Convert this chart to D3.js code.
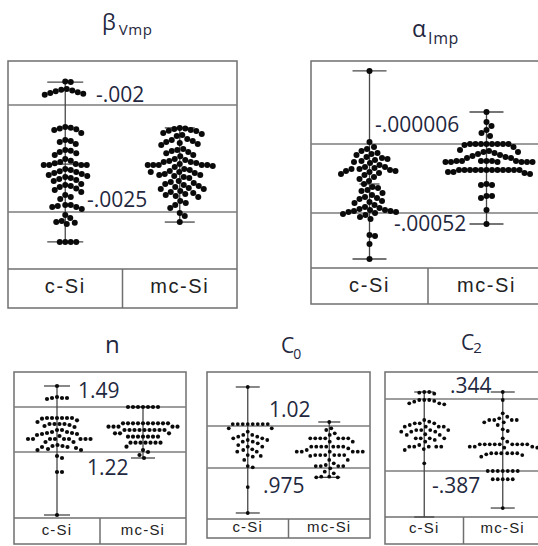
<!DOCTYPE html>
<html><head><meta charset="utf-8">
<script src="https://cdn.jsdelivr.net/npm/d3@7/dist/d3.min.js"></script>
<style>body{margin:0;background:#fff;}svg{display:block;}</style>
</head><body>
<svg id="chart" width="538" height="546"></svg>
<script>
// ---------------- DATA ----------------
const categories = ["c-Si", "mc-Si"];
const titleMain = ["β", "α", "n", "C", "C"];
const titleSub = ["Vmp", "Imp", "", "0", "2"];
const refValues = [[-0.002, -0.0025], [-0.000006, -0.00052], [1.49, 1.22], [1.02, 0.975], [0.344, -0.387]];
const refLabels = [["-.002", "-.0025"], ["-.000006", "-.00052"], ["1.49", "1.22"], ["1.02", ".975"], [".344", "-.387"]];

const betaCSi = [-0.00189, -0.001893,
  -0.001925, -0.001929, -0.001932, -0.001936, -0.00194, -0.001944, -0.001948, -0.001952,
  -0.002103, -0.002106, -0.00211, -0.002113, -0.002117, -0.002131,
  -0.002164, -0.002168, -0.002173, -0.002182,
  -0.00221, -0.002214, -0.00222, -0.002225, -0.002234,
  -0.002252, -0.00226, -0.002266, -0.002272, -0.002276, -0.00228, -0.00228, -0.00228, -0.00228,
  -0.002299, -0.002304, -0.00231, -0.002313, -0.002318, -0.002322, -0.002327, -0.002332, -0.002336, -0.002341, -0.002346, -0.00235, -0.002355,
  -0.002369, -0.002374, -0.002378, -0.002383, -0.00239, -0.002397, -0.002407,
  -0.002421, -0.00243, -0.002439,
  -0.002467, -0.002467, -0.002472, -0.002477, -0.002477, -0.002486,
  -0.002514, -0.002528, -0.002542, -0.002547, -0.00255, -0.002556,
  -0.00264, -0.00264, -0.00264, -0.00264];
const betaMcSi = [-0.002107, -0.00211, -0.002112, -0.002117, -0.00212, -0.002122, -0.002131, -0.002135, -0.00214, -0.002145,
  -0.002159, -0.002164, -0.002168, -0.002173, -0.002178, -0.002182, -0.002187,
  -0.002206, -0.00221, -0.002215, -0.00222, -0.002225, -0.002234, -0.00224,
  -0.002252, -0.002257, -0.002262, -0.002266, -0.002266, -0.002271, -0.002276, -0.00228, -0.00228, -0.00228, -0.00228, -0.00228, -0.002285, -0.00229,
  -0.002299, -0.002304, -0.002308, -0.002313, -0.002318, -0.002322, -0.002327, -0.002332, -0.002336, -0.002341, -0.002327, -0.002313,
  -0.002355, -0.00236, -0.002364, -0.002369, -0.002374, -0.002378, -0.002383, -0.002388, -0.002393, -0.002393,
  -0.002402, -0.002407, -0.002411, -0.002416, -0.002421, -0.002425, -0.00243,
  -0.002449, -0.002458, -0.002467, -0.002481,
  -0.002505, -0.002519,
  -0.002547];
const alphaCSi = [0.000538, 0.0000089,
  -0.0000283, -0.0000432, -0.0000581, -0.000073, -0.0000805, -0.000088,
  -0.0001028, -0.0001102, -0.0001177, -0.0001251, -0.0001326, -0.00014, -0.0001475, -0.0001624,
  -0.0001773, -0.0001773, -0.0001848, -0.0001922, -0.0001922, -0.0001997, -0.0002071, -0.0002071, -0.0002146, -0.000222, -0.0002295, -0.0002369,
  -0.0002518, -0.0002667, -0.0002816, -0.0003039,
  -0.0003263, -0.0003337, -0.0003486, -0.000356, -0.000371, -0.0003859,
  -0.0004008, -0.0004082, -0.0004157, -0.0004306, -0.000438, -0.0004455, -0.0004604,
  -0.0004753, -0.0004827, -0.0004902, -0.0004976, -0.0004976, -0.000505, -0.000505, -0.0005125, -0.0005125, -0.00052, -0.0005274, -0.0005349, -0.0005498, -0.0005647,
  -0.0006839, -0.0006913, -0.0007509,
  -0.0008626];
const alphaMcSi = [0.0002324, 0.0001579, 0.000128, 0.0000983, 0.000076, 0.0000536,
  -0.000006, -0.000006, -0.000006, -0.000006, -0.000006, -0.000006, -0.000006, -0.000006, -0.0000134, -0.0000283,
  -0.0000507, -0.0000582, -0.0000656, -0.0000731, -0.0000805, -0.000088, -0.0000954, -0.0001028, -0.0001103, -0.0001103, -0.0000656,
  -0.0001326, -0.0001326, -0.0001326, -0.0001326, -0.0001326, -0.0001326, -0.00014, -0.00014, -0.00014, -0.00014, -0.00014, -0.00014,
  -0.0002, -0.0002, -0.0002, -0.0002, -0.0002, -0.0002, -0.0002, -0.0002, -0.0002, -0.0002, -0.0002, -0.0002,
  -0.000215, -0.000222, -0.000215, -0.00023,
  -0.0003039, -0.0003114, -0.0003114,
  -0.0003933, -0.0003933, -0.0004082,
  -0.0004976, -0.0006019];
const nCSi = [1.616,
  1.55, 1.544, 1.544, 1.544, 1.538,
  1.424, 1.424, 1.424, 1.424, 1.424, 1.424, 1.42, 1.41, 1.40,
  1.388, 1.388, 1.388, 1.388, 1.382, 1.376, 1.37, 1.352, 1.352,
  1.34, 1.34, 1.334, 1.334, 1.328, 1.328, 1.322, 1.316,
  1.298, 1.298, 1.298, 1.298, 1.298, 1.298, 1.298, 1.298, 1.298, 1.28, 1.28,
  1.262, 1.256, 1.256, 1.25, 1.25, 1.244, 1.238, 1.232, 1.232,
  1.196, 1.184, 1.1, 1.1, 0.842];
const nMcSi = [1.49, 1.49, 1.49, 1.49, 1.49, 1.49, 1.49,
  1.392, 1.392, 1.392, 1.392, 1.392, 1.392, 1.392, 1.392, 1.392, 1.392, 1.372, 1.372, 1.372, 1.372, 1.372,
  1.352, 1.352, 1.352, 1.352, 1.352, 1.352, 1.352, 1.352, 1.352, 1.332, 1.332, 1.332,
  1.312, 1.312, 1.312, 1.312, 1.312, 1.312, 1.312,
  1.276, 1.276, 1.276, 1.276, 1.276, 1.276, 1.276,
  1.252, 1.232, 1.22, 1.202, 1.184];
const c0CSi = [1.0618,
  1.0221, 1.0221, 1.0221, 1.0221, 1.0221, 1.0221, 1.0221, 1.0221, 1.0175, 1.0175,
  1.0139, 1.0104, 1.0104, 1.0086, 1.0086, 1.0068, 1.0068, 1.005, 1.005, 1.0032, 1.0032,
  1.0014, 0.9996, 0.9978, 0.9978, 0.995, 0.9943, 0.9925, 0.9925,
  0.9889, 0.9879, 0.9871, 0.9836,
  0.9771, 0.9757, 0.9546, 0.9268];
const c0McSi = [1.0243,
  1.0175, 1.0157, 1.0121, 1.0104,
  1.0068, 1.0068, 1.0068, 1.0068, 1.0068, 1.0068, 1.0068, 1.0032, 1.0032,
  0.9978, 0.9978, 0.9978, 0.9978, 0.9978, 0.9978, 0.9978, 0.996, 0.9943, 0.9925, 0.9925, 0.9925, 0.9925, 0.9925, 0.9925,
  0.9889, 0.9889, 0.9889, 0.9889, 0.9889, 0.9889, 0.9879, 0.9836, 0.9836,
  0.98, 0.9782, 0.9771, 0.9771, 0.9771, 0.9771, 0.9746,
  0.9711, 0.9693, 0.9657, 0.9657, 0.965, 0.965];
const c2CSi = [0.415, 0.415, 0.408, 0.398,
  0.334, 0.334, 0.334, 0.324, 0.317, 0.3, 0.3, 0.29,
  0.131, 0.114, 0.097, 0.097, 0.097, 0.08, 0.063, 0.063, 0.063, 0.063,
  0.029, 0.029, 0.029, 0.029, 0.012, 0.012, 0.012, -0.014, -0.021, -0.021,
  -0.055, -0.055, -0.055, -0.055, -0.072, -0.089,
  -0.123, -0.14, -0.14, -0.14, -0.14, -0.14, -0.164, -0.174,
  -0.309];
const c2McSi = [0.415, 0.334,
  0.199, 0.164, 0.148, 0.131, 0.131, 0.131, 0.131, 0.107, 0.107, 0.08,
  0.036, 0.019,
  -0.055, -0.089, -0.116, -0.116, -0.116, -0.116, -0.116, -0.116, -0.116, -0.116, -0.116, -0.14, -0.14, -0.14, -0.15, -0.15,
  -0.207, -0.207, -0.207, -0.207, -0.207, -0.207, -0.218, -0.225, -0.242,
  -0.387, -0.387, -0.387, -0.387, -0.387, -0.387, -0.387,
  -0.471, -0.471, -0.471, -0.471, -0.471,
  -0.763];

const rangeHighCSi = [-0.001893, 0.000538, 1.616, 1.0618, 0.415];
const rangeLowCSi = [-0.00264, -0.0008626, 0.842, 0.9268, -0.854];
const rangeHighMcSi = [-0.002107, 0.0002324, 1.49, 1.0243, 0.415];
const rangeLowMcSi = [-0.002547, -0.0006019, 1.184, 0.965, -0.763];
const meanCSi = [-0.002276, -0.000304, null, null, null];

const seriesCSi = [betaCSi, alphaCSi, nCSi, c0CSi, c2CSi];
const seriesMcSi = [betaMcSi, alphaMcSi, nMcSi, c0McSi, c2McSi];

// ---------------- LAYOUT ----------------
const layout = [
  {left: 8, right: 237, top: 61, bottom: 308, catY: 269, refY: [105, 212], r: 3, minD: 5.4, caps: [18, 15], meanW: 16,
   catSize: 20, catBase: 293, labels: [[96, 102], [87, 207]],
   title: {x: 102, y: 30, size: 22, subSize: 15, subDx: 3, subDy: 5}},
  {left: 311, right: 545, top: 61, bottom: 304, catY: 268, refY: [144, 213], r: 3, minD: 5.4, caps: [17, 17], meanW: 10,
   catSize: 20, catBase: 292, labels: [[375, 132], [394, 231]],
   title: {x: 412, y: 37, size: 23, subSize: 16, subDx: 2, subDy: 7}},
  {left: 14, right: 186, top: 372, bottom: 544, catY: 518, refY: [407, 452], r: 2.1, minD: 4.8, caps: [13, 12], meanW: 0,
   catSize: 15, catBase: 535, labels: [[78, 398], [87, 475]],
   title: {x: 105, y: 353, size: 24, subSize: 12, subDx: 0, subDy: 0}},
  {left: 207, right: 370, top: 372, bottom: 538, catY: 519, refY: [426, 468], r: 1.9, minD: 4.7, caps: [12, 11], meanW: 0,
   catSize: 15, catBase: 532, labels: [[269, 417], [263, 493]],
   title: {x: 281, y: 353, size: 21, subSize: 14, subDx: -1, subDy: 6}},
  {left: 385, right: 542, top: 372, bottom: 544, catY: 517, refY: [399, 471], r: 1.9, minD: 4.9, caps: [10, 12], meanW: 0,
   catSize: 15, catBase: 533, labels: [[450, 393], [432, 493]],
   title: {x: 461, y: 350, size: 21, subSize: 15, subDx: -1, subDy: 3}}
];

const textColor = "#1f2840";
const svg = d3.select("#chart");

// deterministic beeswarm: push each point sideways until it no longer overlaps
// (elliptical neighbourhood so that near-equal values also spread sideways)
function swarm(ys, minD) {
  const placed = [];
  const k = 0.7;
  return ys.map(y => {
    let x = 0;
    for (let i = 0; i < 2000; i++) {
      const d = Math.ceil(i / 2) * 0.5;
      const c = i % 2 ? d : -d;
      let ok = true;
      for (const p of placed) {
        const dx = p.x - c, dy = (p.y - y) * k;
        if (dx * dx + dy * dy < minD * minD) { ok = false; break; }
      }
      if (ok) { x = c; break; }
    }
    placed.push({x, y});
    return x;
  });
}

layout.forEach((L, pi) => {
  const g = svg.append("g");
  const x = d3.scaleBand().domain(categories).range([L.left, L.right]);
  const y = d3.scaleLinear().domain(refValues[pi]).range(L.refY);

  // frame
  g.append("rect").attr("x", L.left).attr("y", L.top)
    .attr("width", L.right - L.left).attr("height", L.bottom - L.top)
    .attr("fill", "none").attr("stroke", "#6f6f6f").attr("stroke-width", 1.5);
  g.append("line").attr("x1", L.left).attr("x2", L.right).attr("y1", L.catY).attr("y2", L.catY)
    .attr("stroke", "#6f6f6f").attr("stroke-width", 1.5);
  g.append("line").attr("x1", x("mc-Si")).attr("x2", x("mc-Si")).attr("y1", L.catY).attr("y2", L.bottom)
    .attr("stroke", "#6f6f6f").attr("stroke-width", 1.5);

  // reference lines
  g.selectAll("line.ref").data(refValues[pi]).join("line").attr("class", "ref")
    .attr("x1", L.left).attr("x2", L.right)
    .attr("y1", d => y(d)).attr("y2", d => y(d))
    .attr("stroke", "#7d7d7d").attr("stroke-width", 1.3);

  // category labels
  g.selectAll("text.cat").data(categories).join("text").attr("class", "cat")
    .attr("x", d => x(d) + x.bandwidth() / 2).attr("y", L.catBase)
    .attr("text-anchor", "middle").attr("font-family", "'Liberation Sans', Arial, sans-serif")
    .attr("font-size", L.catSize).attr("letter-spacing", L.catSize > 16 ? 1.6 : 1.2)
    .attr("fill", "#222").text(d => d);

  const groups = [
    {cat: "c-Si", vals: seriesCSi[pi], hi: rangeHighCSi[pi], lo: rangeLowCSi[pi], cap: L.caps[0], mean: meanCSi[pi]},
    {cat: "mc-Si", vals: seriesMcSi[pi], hi: rangeHighMcSi[pi], lo: rangeLowMcSi[pi], cap: L.caps[1], mean: null}
  ];

  groups.forEach(G => {
    const cx = x(G.cat) + x.bandwidth() / 2;
    const wc = "#484848";
    g.append("line").attr("x1", cx).attr("x2", cx).attr("y1", y(G.hi)).attr("y2", y(G.lo))
      .attr("stroke", wc).attr("stroke-width", 1.3);
    [G.hi, G.lo].forEach(v => {
      g.append("line").attr("x1", cx - G.cap).attr("x2", cx + G.cap).attr("y1", y(v)).attr("y2", y(v))
        .attr("stroke", wc).attr("stroke-width", 1.3);
    });
    if (G.mean !== null && L.meanW > 0) {
      g.append("line").attr("x1", cx - L.meanW).attr("x2", cx + L.meanW)
        .attr("y1", y(G.mean)).attr("y2", y(G.mean)).attr("stroke", wc).attr("stroke-width", 1.3);
    }
    const ys = G.vals.map(v => y(v));
    const offs = swarm(ys, L.minD);
    g.selectAll(null).data(G.vals).join("circle")
      .attr("cx", (d, i) => cx + offs[i]).attr("cy", d => y(d))
      .attr("r", L.r).attr("fill", "#0a0a0a");
  });

  // reference labels
  g.selectAll("text.lbl").data(refLabels[pi]).join("text").attr("class", "lbl")
    .attr("x", (d, i) => L.labels[i][0]).attr("y", (d, i) => L.labels[i][1])
    .attr("font-family", "'Open Sans', sans-serif").attr("font-size", 21)
    .attr("fill", textColor).text(d => d);

  // title
  const T = L.title;
  const t = g.append("text").attr("x", T.x).attr("y", T.y)
    .attr("font-family", "'Open Sans', sans-serif").attr("fill", textColor);
  t.append("tspan").attr("font-size", T.size).text(titleMain[pi]);
  if (titleSub[pi]) {
    t.append("tspan").attr("font-size", T.subSize).attr("dx", T.subDx).attr("dy", T.subDy)
      .attr("letter-spacing", 0.6).text(titleSub[pi]);
  }
});
</script>
</body></html>
